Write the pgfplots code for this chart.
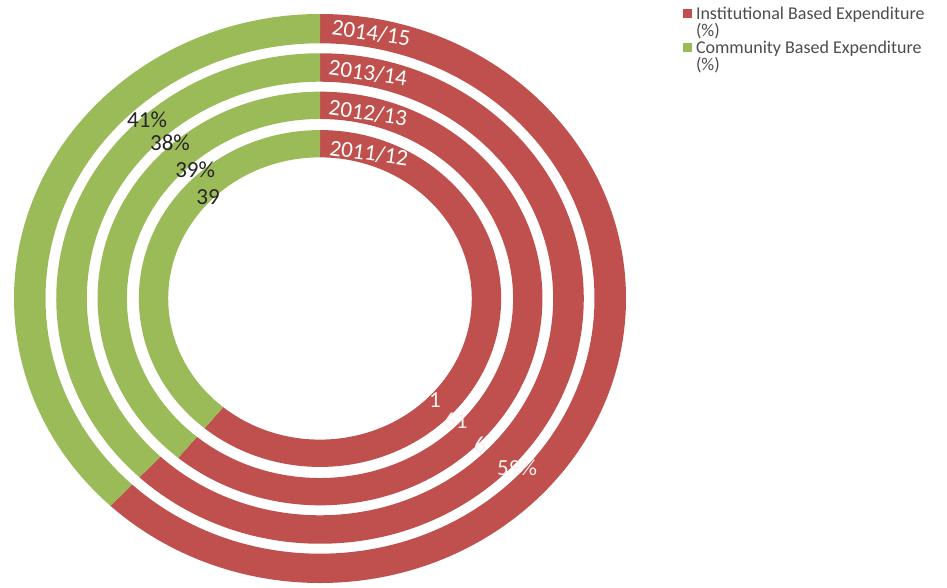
\documentclass[border=0pt]{standalone}
\usepackage{pgfplots}
\pgfplotsset{compat=1.18}
\usepackage{pgfplotstable}
\usepackage{fontspec}
\setmainfont{Carlito}
\definecolor{instred}{HTML}{C0504D}
\definecolor{commgreen}{HTML}{9BBB59}

% ring data: share of each ring (percent, as drawn), ring radii (outer ring = 1)
\pgfplotstableread{
year    inst comm rin   rout
2014/15 62   38   0.897 1.000
2013/14 62   38   0.762 0.862
2012/13 61   39   0.631 0.727
2011/12 61   39   0.496 0.592
}\ringdata

\def\ux{306pt}\def\uy{284.5pt}
\def\rv#1#2{\csname #1#2\endcsname}
\newcommand\ringsector[5]{%
  \fill[#1, overlay] (axis cs:{#5*cos(#2)},{#5*sin(#2)})
    arc[start angle={#2}, end angle={#3}, x radius={#5*\ux}, y radius={#5*\uy}]
    -- (axis cs:{#4*cos(#3)},{#4*sin(#3)})
    arc[start angle={#3}, end angle={#2}, x radius={#4*\ux}, y radius={#4*\uy}]
    -- cycle;}

\begin{document}
\begin{tikzpicture}
\foreach \i in {0,...,3}{%
  \pgfplotstablegetelem{\i}{inst}\of\ringdata \expandafter\xdef\csname inst\i\endcsname{\pgfplotsretval}%
  \pgfplotstablegetelem{\i}{rin}\of\ringdata \expandafter\xdef\csname rin\i\endcsname{\pgfplotsretval}%
  \pgfplotstablegetelem{\i}{rout}\of\ringdata \expandafter\xdef\csname rout\i\endcsname{\pgfplotsretval}%
}
\begin{axis}[
  width=947pt, height=587pt, scale only axis, hide axis, clip=false,
  disabledatascaling,
  xmin=-1.045752, xmax=2.049020, ymin=-1.014060, ymax=1.049209,
  legend style={at={(axis cs:1.1863,1.0211)}, anchor=north west, draw=none, fill=none,
    inner sep=0pt, outer sep=0pt, column sep=4pt, row sep=0pt,
    font=\fontsize{18}{17}\selectfont, text=black!70,
    nodes={inner sep=0pt, anchor=base west, text height=12pt, text depth=5pt}},
  legend image code/.code={\fill[#1] (0pt,1.5pt) rectangle (9pt,10.5pt);},
]
% the picture's frame (fixes the bounding box)
\path (axis cs:-1.045752,-1.014060) rectangle (axis cs:2.049020,1.049209);
\pgfplotsinvokeforeach{0,...,3}{%
  \ringsector{instred}{90}{90-3.6*\rv{inst}{#1}}{\rv{rin}{#1}}{\rv{rout}{#1}}
  \ringsector{commgreen}{90-3.6*\rv{inst}{#1}}{-270}{\rv{rin}{#1}}{\rv{rout}{#1}}
}
\addlegendimage{fill=instred, draw=none}
\addlegendentry{Institutional Based Expenditure}
\addlegendimage{empty legend}
\addlegendentry{(\%)}
\addlegendimage{fill=commgreen, draw=none}
\addlegendentry{Community Based Expenditure}
\addlegendimage{empty legend}
\addlegendentry{(\%)}

% series names
\begin{scope}[every node/.style={font=\fontsize{23}{27}\selectfont, text=white, rotate=-8}]
\node at (axis cs:0.167,0.933) {2014/15};
\node at (axis cs:0.157,0.793) {2013/14};
\node at (axis cs:0.157,0.652) {2012/13};
\node at (axis cs:0.160,0.511) {2011/12};
\end{scope}
% community labels
\begin{scope}[every node/.style={font=\fontsize{23}{27}\selectfont, text=black!85}]
\node at (axis cs:-0.565,0.627) {41\%};
\node at (axis cs:-0.490,0.547) {38\%};
\node at (axis cs:-0.408,0.452) {39\%};
\node at (axis cs:-0.366,0.357) {39};
\end{scope}
% institutional labels (partly hidden in the original)
\begin{scope}[every node/.style={font=\fontsize{23}{27}\selectfont, text=white!92!instred}]
\node at (axis cs:0.376,-0.357) {1};
\node at (axis cs:0.444,-0.431) {61};
\node at (axis cs:0.523,-0.515) {6};
\node at (axis cs:0.644,-0.596) {59\%};
\end{scope}
\end{axis}
\end{tikzpicture}
\end{document}
